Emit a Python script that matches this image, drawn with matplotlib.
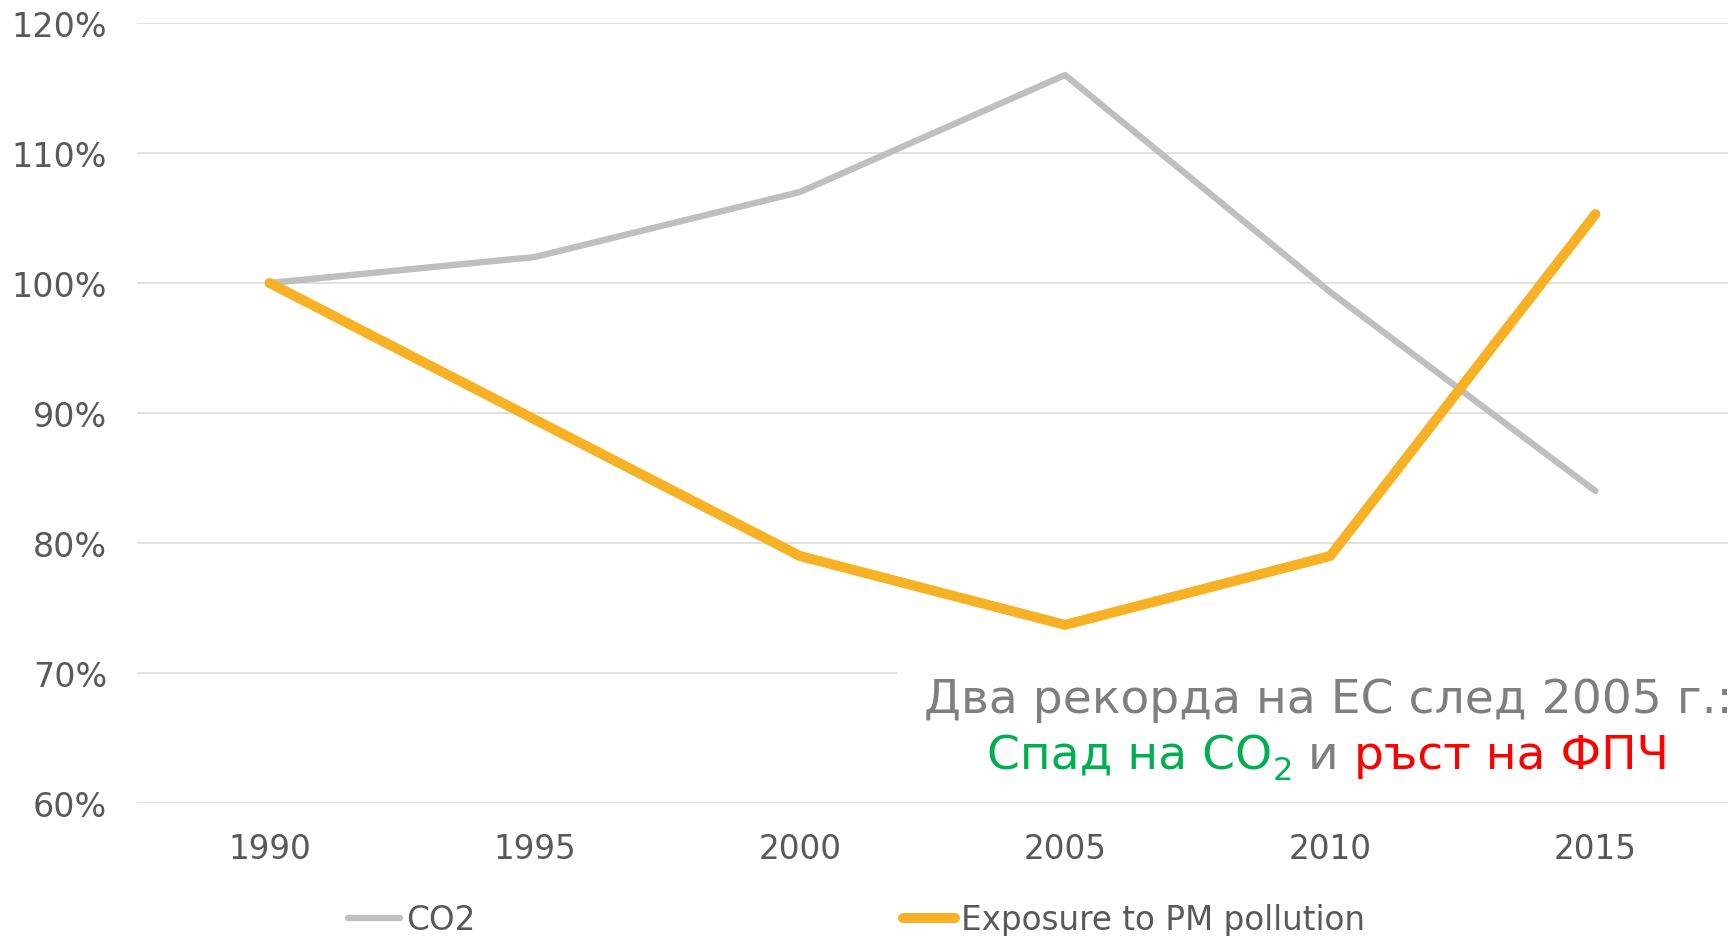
import matplotlib
matplotlib.use("Agg")
import matplotlib.pyplot as plt
from matplotlib.patches import Rectangle

# data
years = ["1990", "1995", "2000", "2005", "2010", "2015"]
co2 = [1.00, 1.02, 1.07, 1.16, 0.993, 0.84]
pm = [1.00, 0.895, 0.79, 0.737, 0.79, 1.053]
yticks = [0.6, 0.7, 0.8, 0.9, 1.0, 1.1, 1.2]
ytick_labels = ["60%", "70%", "80%", "90%", "100%", "110%", "120%"]

W, H = 1734, 937
fig = plt.figure(figsize=(W / 100, H / 100), dpi=100)
ax = fig.add_axes([137 / W, 1 - 804 / H, (1728 - 137) / W, (804 - 24) / H])

x = list(range(len(years)))
ax.plot(x, co2, color="#BFBFBF", lw=4.6, solid_capstyle="round", label="CO2", zorder=3)
ax.plot(x, pm, color="#F7B125", lw=7.2, solid_capstyle="round",
        label="Exposure to PM pollution", zorder=4)

ax.set_xlim(-0.5, len(years) - 0.5)
ax.set_ylim(0.6, 1.2)
ax.set_xticks(x)
ax.set_xticklabels(years)
ax.set_yticks(yticks)
ax.set_yticklabels(ytick_labels)
ax.tick_params(axis="both", length=0, labelcolor="#595959")
ax.tick_params(axis="y", pad=21.5, labelsize=24)
ax.tick_params(axis="x", pad=21, labelsize=23.5)
ax.yaxis.grid(True, color="#D9D9D9", lw=1.1)
ax.set_axisbelow(True)
for s in ax.spines.values():
    s.set_visible(False)

leg = fig.legend(loc="center left", bbox_to_anchor=(348 / W, 1 - 921 / H), ncol=2,
                 frameon=False, fontsize=23.5, handlelength=1.6, handletextpad=0.18,
                 columnspacing=13.1, borderpad=0, borderaxespad=0)
for t in leg.get_texts():
    t.set_color("#595959")

# white box behind the annotation hides the 70% grid line
fig.patches.append(Rectangle((897 / W, 1 - 795 / H), (W - 897) / W, (795 - 662) / H,
                             transform=fig.transFigure, facecolor="white",
                             edgecolor="none", zorder=1))

fs = 34
cx = 1328 / W
fig.text(cx, 1 - 713 / H, "Два рекорда на ЕС след 2005 г.:", fontsize=fs,
         color="#7F7F7F", ha="center", va="baseline", zorder=5)

# second line built from coloured pieces: (text, colour, size, baseline shift, spaces before)
pieces = [("Спад на CO", "#00B050", fs, 0, 0),
          ("2", "#00B050", fs * 0.68, -11, 0),
          ("и", "#7F7F7F", fs, 0, 1),
          ("ръст на ФПЧ", "#FF0000", fs, 0, 1)]
r = fig.canvas.get_renderer()


def text_width(s, size):
    t = fig.text(0, 0, s, fontsize=size)
    w = t.get_window_extent(r).width
    t.remove()
    return w


space = text_width("н н", fs) - text_width("нн", fs)
total = sum(text_width(p[0], p[2]) + p[4] * space for p in pieces)
xpos = 1328 - total / 2
base = 769
for s, c, size, dy, nsp in pieces:
    xpos += nsp * space
    fig.text(xpos / W, 1 - (base - dy) / H, s, fontsize=size, color=c,
             ha="left", va="baseline", zorder=5)
    xpos += text_width(s, size)

fig.savefig("out.png", dpi=100)
